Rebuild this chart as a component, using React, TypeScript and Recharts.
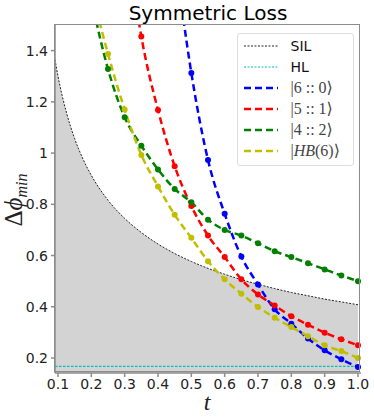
import { ComposedChart, Line, Area, XAxis, YAxis } from 'recharts'

// transmission values for the reference curve (SIL)
const silT = [0.091, 0.1, 0.125, 0.15, 0.175, 0.2, 0.25, 0.3, 0.35, 0.4, 0.45, 0.5, 0.55, 0.6, 0.65, 0.7, 0.75, 0.8, 0.85, 0.9, 0.95, 1.0]
const silValues = [1.365, 1.3, 1.16, 1.056, 0.977, 0.913, 0.816, 0.745, 0.69, 0.645, 0.608, 0.577, 0.55, 0.527, 0.506, 0.488, 0.471, 0.456, 0.443, 0.43, 0.419, 0.408]

const hlT = [0.091, 1.0]
const hlValue = 0.167

// sampled transmissions for the states
const stateT = [0.2, 0.25, 0.3, 0.35, 0.4, 0.45, 0.5, 0.55, 0.6, 0.65, 0.7, 0.75, 0.8, 0.85, 0.9, 0.95, 1.0]
const state60 = [null, null, null, null, null, 1.78, 1.313, 0.973, 0.763, 0.596, 0.487, 0.39, 0.334, 0.276, 0.23, 0.195, 0.165]
const state51 = [null, null, 1.9, 1.455, 1.168, 0.949, 0.793, 0.678, 0.594, 0.507, 0.448, 0.405, 0.363, 0.33, 0.299, 0.273, 0.25]
const state42 = [1.6, 1.328, 1.14, 1.029, 0.936, 0.86, 0.808, 0.74, 0.7, 0.678, 0.648, 0.617, 0.594, 0.57, 0.546, 0.522, 0.5]
const stateHB = [1.64, 1.387, 1.17, 0.993, 0.87, 0.759, 0.669, 0.578, 0.507, 0.451, 0.399, 0.357, 0.321, 0.285, 0.25, 0.227, 0.2]

const xTicks = [0.1, 0.2, 0.3, 0.4, 0.5, 0.6, 0.7, 0.8, 0.9, 1.0]
const yTicks = [0.2, 0.4, 0.6, 0.8, 1.0, 1.2, 1.4]

const silData = silT.map((t, i) => ({ t, v: silValues[i] }))
const hlData = hlT.map(t => ({ t, v: hlValue }))
const toData = (vals: (number | null)[]) => stateT.map((t, i) => ({ t, v: vals[i] }))

const series = [
  { name: '6 :: 0', color: '#0000ff', data: toData(state60) },
  { name: '5 :: 1', color: '#ff0000', data: toData(state51) },
  { name: '4 :: 2', color: '#008000', data: toData(state42) },
  { name: 'HB(6)', color: '#bfbf00', data: toData(stateHB) },
]

const sans = '"DejaVu Sans", sans-serif'
const serif = '"Liberation Serif", "DejaVu Serif", serif'
const spine = '#8c8c8c'

function Ket({ label }: { label: string }) {
  const italic = label.startsWith('HB')
  return (
    <span style={{ fontFamily: serif, fontSize: 16, color: '#444' }}>
      |{italic ? <><i>HB</i>(6)</> : label}⟩
    </span>
  )
}

export default function App() {
  return (
    <div style={{ position: 'absolute', left: 0, top: 0, width: 374, height: 417, background: '#fff' }}>
      <ComposedChart width={374} height={417} margin={{ top: 25, right: 13, bottom: 0, left: 0 }}>
        <XAxis
          dataKey="t"
          type="number"
          domain={[0.091, 1.009]}
          ticks={xTicks}
          allowDataOverflow
          height={44}
          tickSize={4}
          tickMargin={2}
          stroke={spine}
          strokeWidth={1.5}
          tick={{ fill: '#222', fontSize: 14, fontFamily: sans }}
          tickFormatter={(v: number) => v.toFixed(1)}
        />
        <YAxis
          type="number"
          domain={[0.1415, 1.5]}
          ticks={yTicks}
          allowDataOverflow
          width={55}
          tickSize={4}
          tickMargin={3}
          stroke={spine}
          strokeWidth={1.5}
          tick={{ fill: '#222', fontSize: 14, fontFamily: sans }}
          tickFormatter={(v: number) => (v === 1 ? '1' : v.toFixed(1))}
        />
        <Area
          data={silData}
          dataKey="v"
          type="monotone"
          fill="#d3d3d3"
          fillOpacity={1}
          stroke="#222"
          strokeWidth={1}
          strokeDasharray="2 1.5"
          isAnimationActive={false}
        />
        <Line
          data={hlData}
          dataKey="v"
          stroke="#00bfbf"
          strokeWidth={1.2}
          strokeDasharray="2.5 1.5"
          dot={false}
          isAnimationActive={false}
        />
        {series.map(s => (
          <Line
            key={s.name}
            data={s.data}
            dataKey="v"
            type="monotone"
            stroke={s.color}
            strokeWidth={2.5}
            strokeDasharray="7 4"
            dot={{ r: 3, fill: s.color, stroke: s.color, strokeWidth: 0, strokeDasharray: '' }}
            isAnimationActive={false}
          />
        ))}
      </ComposedChart>

      {/* frame */}
      <div style={{ position: 'absolute', left: 54.25, top: 24.25, width: 306, height: 347.7, border: `1.5px solid ${spine}`, boxSizing: 'border-box', pointerEvents: 'none' }} />

      <svg width={374} height={417} style={{ position: 'absolute', left: 0, top: 0, pointerEvents: 'none' }}>
        <text x={208} y={20} textAnchor="middle" fontFamily={sans} fontSize={20} fill="#000">Symmetric Loss</text>
        <text x={207} y={410} textAnchor="middle" fontFamily={serif} fontStyle="italic" fontSize={24} fill="#222">t</text>
        <text transform="translate(22,200) rotate(-90)" textAnchor="middle" fontFamily={serif} fontSize={25} fill="#222">
          Δ<tspan fontStyle="italic">ϕ</tspan>
          <tspan fontStyle="italic" fontSize={16} dy={5}>min</tspan>
        </text>
      </svg>

      {/* legend */}
      <div style={{ position: 'absolute', left: 236.5, top: 32.5, width: 117, height: 133.5, border: '1px solid #ddd', borderRadius: 3, background: 'rgba(255,255,255,0.85)', boxSizing: 'border-box' }}>
        {[
          { label: <span style={{ fontFamily: sans, fontSize: 14, color: '#111' }}>SIL</span>, color: '#222', dash: '2 1.5', w: 1 },
          { label: <span style={{ fontFamily: sans, fontSize: 14, color: '#111' }}>HL</span>, color: '#00bfbf', dash: '2 1.5', w: 1.2 },
          ...series.map(s => ({ label: <Ket label={s.name} />, color: s.color, dash: '7 4', w: 2.5 })),
        ].map((e, i) => (
          <div key={i} style={{ position: 'absolute', left: 6, top: 4 + i * 21, height: 16, display: 'flex', alignItems: 'center' }}>
            <svg width={34} height={16}>
              <line x1={0} x2={34} y1={8} y2={8} stroke={e.color} strokeWidth={e.w} strokeDasharray={e.dash} />
            </svg>
            <div style={{ marginLeft: 13, whiteSpace: 'nowrap' }}>{e.label}</div>
          </div>
        ))}
      </div>
    </div>
  )
}
